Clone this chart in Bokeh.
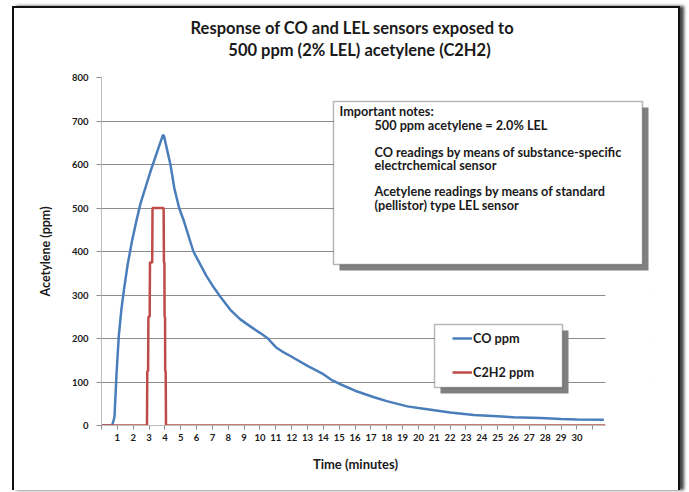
from bokeh.plotting import figure
from bokeh.models import Range1d, FixedTicker, BoxAnnotation, Label, Legend, LegendItem
from bokeh.embed import file_html
from bokeh.resources import INLINE

# ---------------- data ----------------
co_time = [0, 0.67, 0.75, 0.82, 0.95, 1.09, 1.25, 1.41, 1.65, 1.93, 2.2, 2.46, 2.8, 3.1,
           3.5, 3.88, 3.95, 4.1, 4.35, 4.6, 4.9, 5.2, 5.8, 6.6, 7.0, 7.5, 8.13, 8.76, 9.5,
           10.0, 10.5, 11.0, 11.5, 12.0, 13.0, 14.0, 14.5, 15.0, 16.0, 17.2, 18.0, 19.3,
           20.0, 21.0, 22.0, 23.5, 25.0, 26.0, 27.7, 29.0, 30.0, 31.7]
co_ppm = [0, 0, 10, 20, 120, 205, 265, 310, 370, 425, 470, 510, 550, 585,
          628, 668, 665, 640, 600, 545, 500, 470, 400, 345, 322, 296, 266, 244, 225,
          213, 200, 180, 168, 158, 137, 118, 105, 96, 80, 65, 56, 44,
          40, 35, 30, 24, 21, 19, 17, 15, 14, 13]

c2h2_time = [0, 2.87, 2.89, 2.94, 2.96, 3.04, 3.06, 3.2, 3.22, 3.92, 3.94, 3.97, 3.98,
             4.01, 4.02, 4.05, 4.07, 31.8]
c2h2_ppm = [0, 0, 125, 125, 250, 250, 375, 375, 500, 500, 375, 375, 250,
            250, 125, 125, 0, 0]

y_ticks = [0, 100, 200, 300, 400, 500, 600, 700, 800]
x_ticks = list(range(0, 32))
x_tick_labels = {t: (str(t) if 1 <= t <= 30 else "") for t in x_ticks}
x_end = 31.8

title_lines = ["Response of CO and LEL sensors exposed to",
               "500 ppm (2% LEL) acetylene (C2H2)"]
x_title = "Time (minutes)"
y_title = "Acetylene (ppm)"
notes_head = "Important notes:"
notes_lines = ["500 ppm acetylene = 2.0% LEL",
               "CO readings by means  of substance-specific",
               "electrchemical sensor",
               "Acetylene readings by means of standard",
               "(pellistor) type LEL sensor"]

FONT = "Lato"
BLUE = "#4a7ebb"
RED = "#be4b48"
TXT = "#1a1a1a"

# page -> canvas offsets (margin-left 12 + border 2, margin-top 6 + border 2)
OX, OY = 14, 8
def cx(px):
    return px - OX
def cy(py):
    return py - OY

# frame spans page x 101..652 (the part beyond x_end is masked white)
p = figure(width=668, height=484, output_backend="svg", toolbar_location=None,
           x_range=Range1d(0, 34.77), y_range=Range1d(0, 800),
           min_border_left=87, min_border_right=30, min_border_top=69, min_border_bottom=67,
           background_fill_color="white", border_fill_color="white")
p.outline_line_color = None
p.styles = {"margin-left": "12px", "margin-top": "6px",
            "border-left": "2px solid #111", "border-right": "2px solid #111",
            "border-top": "2px solid #111", "box-shadow": "4px 0px 3px #444"}

# grid
p.xgrid.visible = False
p.ygrid.grid_line_color = "#8c8c8c"
p.ygrid.grid_line_width = 1
p.ygrid.ticker = FixedTicker(ticks=y_ticks)

# axes
p.yaxis.ticker = FixedTicker(ticks=y_ticks)
p.yaxis.axis_line_color = "#bdbdbd"
p.yaxis.major_tick_line_color = "#8c8c8c"
p.yaxis.major_tick_out = 5
p.yaxis.major_tick_in = 0
p.yaxis.minor_tick_line_color = None
p.yaxis.major_label_text_font = FONT
p.yaxis.major_label_text_font_style = "bold"
p.yaxis.major_label_text_font_size = "9.5px"
p.yaxis.major_label_text_color = TXT
p.yaxis.major_label_standoff = 8
p.yaxis.axis_label = y_title
p.yaxis.axis_label_text_font = FONT
p.yaxis.axis_label_text_font_style = "bold"
p.yaxis.axis_label_text_font_size = "12.5px"
p.yaxis.axis_label_text_color = TXT
p.yaxis.axis_label_standoff = 16

p.xaxis.ticker = FixedTicker(ticks=x_ticks)
p.xaxis.bounds = (0, x_end)
p.xaxis.major_label_overrides = x_tick_labels
p.xaxis.axis_line_color = "#bdbdbd"
p.xaxis.major_tick_line_color = "#8c8c8c"
p.xaxis.major_tick_out = 4
p.xaxis.major_tick_in = 0
p.xaxis.minor_tick_line_color = None
p.xaxis.major_label_text_font = FONT
p.xaxis.major_label_text_font_style = "bold"
p.xaxis.major_label_text_font_size = "9.5px"
p.xaxis.major_label_text_color = TXT
p.xaxis.major_label_standoff = 4

# white mask for the frame part beyond the plotted time range
p.add_layout(BoxAnnotation(left=x_end, fill_color="white", fill_alpha=1.0,
                           line_color=None, level="glyph"))

# series
r_co = p.line(co_time, co_ppm, line_color=BLUE, line_width=2.5)
r_c2 = p.line(c2h2_time, c2h2_ppm, line_color=RED, line_width=2.5)

def box(l, t, r, b, fill, line=None, lw=1.5):
    return BoxAnnotation(left=cx(l), right=cx(r), top=cy(t), bottom=cy(b),
                         left_units="canvas", right_units="canvas",
                         top_units="canvas", bottom_units="canvas",
                         fill_color=fill, fill_alpha=1.0,
                         line_color=line, line_width=lw, level="overlay")

def label(text, px, py, size, align="left"):
    return Label(x=cx(px), y=cy(py), x_units="canvas", y_units="canvas",
                 text=text, text_font=FONT, text_font_style="bold",
                 text_font_size=size, text_color=TXT, text_align=align,
                 text_baseline="middle", level="overlay")

# chart title and x-axis title (side panels: not clipped, free horizontal position)
p.add_layout(label(title_lines[0], 350, 25, "16.5px", "center"), "above")
p.add_layout(label(title_lines[1], 357, 47, "16.5px", "center"), "above")
p.add_layout(label(x_title, 353, 461, "13px", "center"), "below")

# notes box with shadow
p.add_layout(box(337, 105, 646, 268, "#808080"))
p.add_layout(box(331, 99, 640, 262, "white", "#111"))
p.add_layout(label(notes_head, 337, 108, "12.7px"))
note_y = [122, 149, 162, 188, 202]
for t, yy in zip(notes_lines, note_y):
    p.add_layout(label(t, 372, yy, "12.7px"))

# legend box with shadow
p.add_layout(box(438, 328, 566, 391, "#808080"))
p.add_layout(box(432, 322, 560, 385, "white", "#111"))

legend = Legend(items=[LegendItem(label="CO ppm", renderers=[r_co]),
                       LegendItem(label="C2H2 ppm", renderers=[r_c2])],
                location=(452 - 101, 425 - 382), margin=0, padding=0, spacing=14,
                glyph_width=20, glyph_height=20, label_height=20, label_standoff=1,
                background_fill_alpha=0, border_line_color=None,
                label_text_font=FONT, label_text_font_style="bold",
                label_text_font_size="12.7px", label_text_color=TXT)
p.add_layout(legend, "center")

open("out.html", "w").write(file_html(p, INLINE))
